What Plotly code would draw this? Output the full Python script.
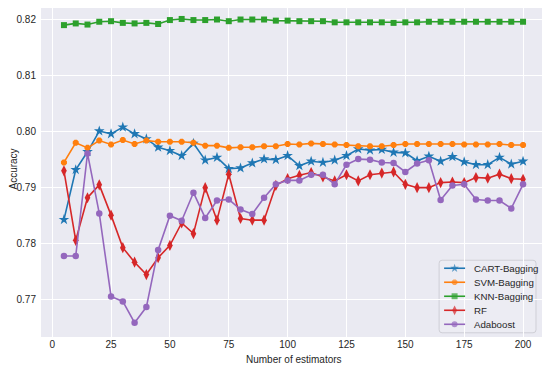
import plotly.graph_objects as go

estimators = list(range(5, 205, 5))

cart = [0.7843, 0.7932, 0.7964, 0.8001, 0.7996, 0.8008, 0.7996, 0.7987, 0.7972, 0.7966,
        0.7957, 0.7979, 0.7949, 0.7954, 0.7934, 0.7935, 0.7944, 0.7951, 0.7950, 0.7957,
        0.7939, 0.7947, 0.7945, 0.7949, 0.7957, 0.7969, 0.7967, 0.7968, 0.7963, 0.7962,
        0.7948, 0.7956, 0.7947, 0.7955, 0.7946, 0.7941, 0.7941, 0.7954, 0.7942, 0.7947]
svm = [0.7945, 0.7980, 0.7971, 0.7984, 0.7977, 0.7985, 0.7978, 0.7984, 0.7982, 0.7982,
       0.7982, 0.7980, 0.7975, 0.7975, 0.7971, 0.7972, 0.7972, 0.7974, 0.7974, 0.7978,
       0.7977, 0.7979, 0.7978, 0.7977, 0.7976, 0.7974, 0.7974, 0.7974, 0.7976, 0.7978,
       0.7978, 0.7978, 0.7978, 0.7978, 0.7977, 0.7977, 0.7977, 0.7978, 0.7976, 0.7976]
knn = [0.8190, 0.8193, 0.8191, 0.8196, 0.8197, 0.8194, 0.8193, 0.8194, 0.8192, 0.8199,
       0.8201, 0.8199, 0.8199, 0.8200, 0.8197, 0.8200, 0.8200, 0.8200, 0.8198, 0.8198,
       0.8197, 0.8197, 0.8197, 0.8195, 0.8195, 0.8195, 0.8195, 0.8195, 0.8194, 0.8195,
       0.8195, 0.8196, 0.8196, 0.8196, 0.8196, 0.8196, 0.8196, 0.8196, 0.8196, 0.8196]
rf = [0.7930, 0.7806, 0.7882, 0.7905, 0.7851, 0.7793, 0.7767, 0.7745, 0.7775, 0.7797,
      0.7837, 0.7818, 0.7900, 0.7842, 0.7924, 0.7845, 0.7842, 0.7842, 0.7904, 0.7916,
      0.7922, 0.7927, 0.7919, 0.7912, 0.7923, 0.7912, 0.7923, 0.7926, 0.7928, 0.7906,
      0.7900, 0.7900, 0.7909, 0.7910, 0.7909, 0.7918, 0.7917, 0.7924, 0.7916, 0.7915]
ada = [0.7778, 0.7778, 0.7961, 0.7854, 0.7706, 0.7697, 0.7659, 0.7687, 0.7789, 0.7850,
       0.7841, 0.7891, 0.7846, 0.7877, 0.7879, 0.7861, 0.7853, 0.7882, 0.7906, 0.7913,
       0.7913, 0.7923, 0.7923, 0.7906, 0.7941, 0.7951, 0.7950, 0.7945, 0.7944, 0.7928,
       0.7943, 0.7949, 0.7878, 0.7904, 0.7906, 0.7879, 0.7877, 0.7877, 0.7863, 0.7906]

series_names = ["CART-Bagging", "SVM-Bagging", "KNN-Bagging", "RF", "Adaboost"]
series_values = [cart, svm, knn, rf, ada]

x_ticks = [0, 25, 50, 75, 100, 125, 150, 175, 200]
y_ticks = [0.77, 0.78, 0.79, 0.80, 0.81, 0.82]
x_title = "Number of estimators"
y_title = "Accuracy"

# styling
colors = ["#1f77b4", "#ff7f0e", "#2ca02c", "#d62728", "#9467bd"]
symbols = ["star", "octagon", "square", "diamond-tall", "circle"]
sizes = [8, 6.5, 6, 8, 6.5]
leg_sizes = [6.5, 6, 6, 7, 6]
LW = 1.6

# The page body has an 8px margin; the figure is sized to fit the 550x369 window.
PAGE = 8
W, H = 550 - PAGE, 369 - PAGE
# plot area in screen pixels
L, R, T, B = 41, 546.5, 8, 336.7

font = "Liberation Sans, Arial, sans-serif"
txt = "#262626"

fig = go.Figure()
for name, vals, color, sym, size in zip(series_names, series_values, colors, symbols, sizes):
    fig.add_trace(go.Scatter(
        x=estimators, y=vals, name=name, mode="lines+markers",
        line=dict(color=color, width=LW),
        marker=dict(symbol=sym, size=size, color=color, line=dict(width=0)),
        showlegend=False,
    ))

# ---- compact matplotlib-style legend drawn in a screen-pixel overlay
bx0, bx1, by0, by1 = 439.5, 536.5, 260, 332.5
r = 3
path = (f"M {bx0+r},{by0} L {bx1-r},{by0} Q {bx1},{by0} {bx1},{by0+r} "
        f"L {bx1},{by1-r} Q {bx1},{by1} {bx1-r},{by1} L {bx0+r},{by1} "
        f"Q {bx0},{by1} {bx0},{by1-r} L {bx0},{by0+r} Q {bx0},{by0} {bx0+r},{by0} Z")
shapes = [dict(type="path", path=path, xref="x2", yref="y2",
               fillcolor="rgba(236,236,243,0.9)", line=dict(color="#cfcfd6", width=1),
               layer="below")]
annotations = []
row0, step = 268, 14
for i, (name, color, sym, ls) in enumerate(zip(series_names, colors, symbols, leg_sizes)):
    yy = row0 + i * step
    fig.add_trace(go.Scatter(
        x=[444.5, 455, 465.5], y=[yy, yy, yy], mode="lines+markers",
        line=dict(color=color, width=LW),
        marker=dict(symbol=sym, size=[0, ls, 0], color=color, line=dict(width=0)),
        xaxis="x2", yaxis="y2", showlegend=False, hoverinfo="skip", cliponaxis=False,
    ))
    annotations.append(dict(
        x=472, y=yy, xref="x2", yref="y2", text=name, showarrow=False,
        xanchor="left", yanchor="middle", font=dict(size=9.7, color=txt, family=font),
    ))

# axis titles
annotations.append(dict(
    x=0.5, y=0, xref="paper", yref="paper", text=x_title, showarrow=False,
    xanchor="center", yanchor="middle", yshift=-(359 - B),
    font=dict(size=10, color=txt, family=font),
))
annotations.append(dict(
    x=0, y=0.5, xref="paper", yref="paper", text=y_title, showarrow=False,
    textangle=-90, xanchor="center", yanchor="middle", xshift=-(L - 13), yshift=3,
    font=dict(size=10, color=txt, family=font),
))

fig.update_layout(
    width=W, height=H,
    margin=dict(l=L - PAGE, r=W - (R - PAGE), t=T - PAGE, b=H - (B - PAGE), autoexpand=False),
    paper_bgcolor="white", plot_bgcolor="#EAEAF2",
    font=dict(family=font, size=10, color=txt),
    showlegend=False,
    shapes=shapes, annotations=annotations,
    xaxis2=dict(overlaying="x", range=[L, R], visible=False, fixedrange=True),
    yaxis2=dict(overlaying="y", range=[B, T], visible=False, fixedrange=True),
)
# y range: value at screen pixel p is 0.80 - (p - 131.5)/5600
y_lo = 0.80 - (B - 131.5) / 5600
y_hi = 0.80 - (T - 131.5) / 5600
fig.layout.xaxis.update(range=[-4.75, 209.75], tickvals=x_ticks,
                        ticktext=[str(t) for t in x_ticks],
                        showgrid=True, gridcolor="white", gridwidth=1, zeroline=False,
                        showline=False, ticks="", automargin=False,
                        tickfont=dict(size=10))
fig.layout.yaxis.update(range=[y_lo, y_hi], tickvals=y_ticks,
                        ticktext=[f"{t:.2f}" for t in y_ticks],
                        showgrid=True, gridcolor="white", gridwidth=1, zeroline=False,
                        showline=False, ticks="", automargin=False, ticklabelstandoff=4,
                        tickfont=dict(size=10))

fig.write_html("out.html")
